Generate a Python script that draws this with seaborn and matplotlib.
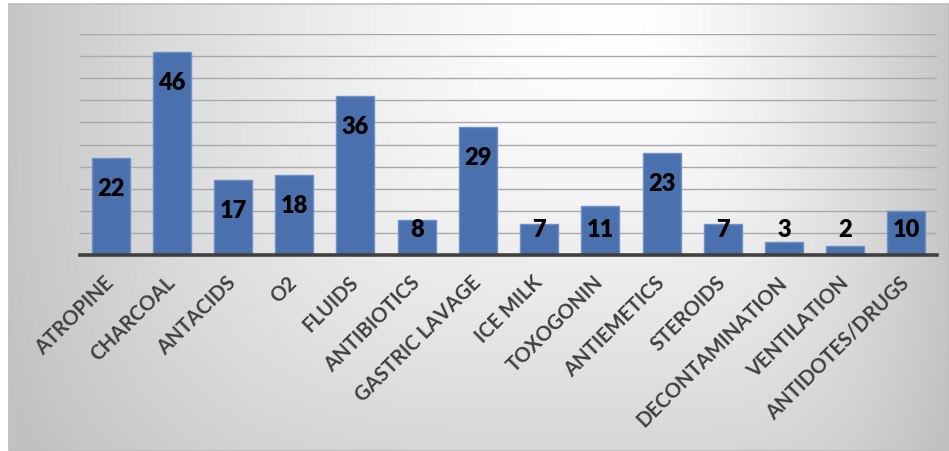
import numpy as np
import pandas as pd
import matplotlib
matplotlib.use("Agg")
import matplotlib.pyplot as plt
import seaborn as sns
from matplotlib.patches import Rectangle

categories = ["ATROPINE", "CHARCOAL", "ANTACIDS", "O2", "FLUIDS", "ANTIBIOTICS",
              "GASTRIC LAVAGE", "ICE MILK", "TOXOGONIN", "ANTIEMETICS", "STEROIDS",
              "DECONTAMINATION", "VENTILATION", "ANTIDOTES/DRUGS"]
values = [22, 46, 17, 18, 36, 8, 29, 7, 11, 23, 7, 3, 2, 10]

sns.set_theme(style="white")
plt.rcParams['font.family'] = ['Lato', 'DejaVu Sans']

W, H = 949, 452
fig = plt.figure(figsize=(W / 100, H / 100), dpi=100)
fig.patch.set_facecolor("white")

# background gradient box
bx0, by0 = 9, 5  # pixel coords of box top-left
bg = fig.add_axes([bx0 / W, 0, 1 - bx0 / W, (H - by0) / H], zorder=0)
xs = np.arange(bx0, W)
ys = np.arange(by0, H)
X, Y = np.meshgrid(xs, ys)
cx, cy = 620, 5
dx = np.where(X < cx, (cx - X) / 611.0, (X - cx) / 330.0)
dy = (Y - cy) / 560.0
s = (dx ** 4 + dy ** 4) ** 0.25
s = np.clip(s, 0, 1.05)
g = (255 - 57 * s ** 1.5) / 255.0
img = np.dstack([g, g, g])
bg.imshow(img, aspect="auto", interpolation="bilinear")
bg.set_axis_off()
fig.add_artist(Rectangle((bx0 / W, 0), 1 - bx0 / W - 0.0005, (H - by0) / H,
                         transform=fig.transFigure, fill=False,
                         edgecolor="#bdbdbd", linewidth=1.2, zorder=1))

ax = fig.add_axes([80 / W, 196 / H, 857 / W, 221 / H], zorder=2)
ax.set_facecolor("none")
df = pd.DataFrame({"cat": categories, "val": values})
sns.barplot(data=df, x="cat", y="val", color="#4a70ad", saturation=1,
            width=0.62, edgecolor="#7090c8", linewidth=1.0, ax=ax, zorder=3)
ax.set_xlim(-0.5, len(categories) - 0.5)
ax.set_ylim(0, 50)
ax.set_yticks(np.arange(0, 51, 5))
ax.yaxis.grid(True, color="#a9a9a9", linewidth=1.0, zorder=0)
ax.set_axisbelow(True)
ax.tick_params(axis="y", left=False, labelleft=False)
ax.tick_params(axis="x", bottom=False, pad=11)
for sp in ["left", "right", "top"]:
    ax.spines[sp].set_visible(False)
ax.spines["bottom"].set_color("#404040")
ax.spines["bottom"].set_linewidth(2.6)
ax.spines["bottom"].set_zorder(5)
ax.set_xlabel("")
ax.set_ylabel("")
for lab in ax.get_xticklabels():
    lab.set_rotation(45)
    lab.set_ha("right")
    lab.set_va("center")
    lab.set_rotation_mode("anchor")
    lab.set_fontsize(14.6)
    lab.set_fontweight("bold")
    lab.set_color("#404040")

for i, v in enumerate(values):
    ax.text(i, max(v - 6.8, 5.9), str(v), ha="center", va="center",
            fontsize=17, fontweight="heavy", color="black", zorder=6)

fig.savefig("out.png", dpi=100)
